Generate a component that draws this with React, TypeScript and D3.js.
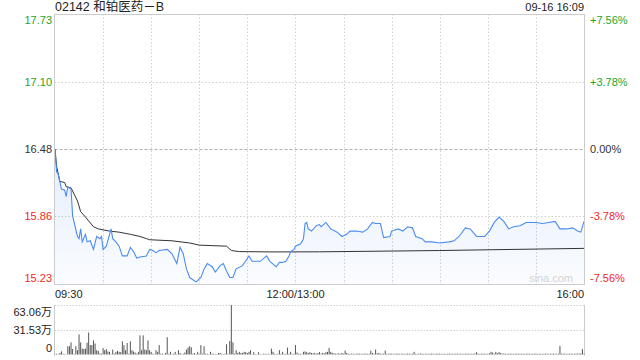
import React from "react";
import * as d3 from "d3";

const title = "02142 和铂医药－B";
const stamp = "09-16 16:09";
const preClose = 16.48;
const priceTicks = [17.73, 17.1, 16.48, 15.86, 15.23];
const priceTickLabels = ["17.73", "17.10", "16.48", "15.86", "15.23"];
const pctTickLabels = ["+7.56%", "+3.78%", "0.00%", "-3.78%", "-7.56%"];
const timeTickMinutes = [0, 150, 330];
const timeTickLabels = ["09:30", "12:00/13:00", "16:00"];
const volTicks = [63.06, 31.53, 0];
const volTickLabels = ["63.06万", "31.53万", "0"];

// trading minutes since 09:30 (morning 0-150, afternoon 150-330)
const priceMinutes = [
  0, 1, 2, 4, 6, 7, 8, 10, 11, 14, 15, 16, 17, 19, 20, 22, 24, 26, 28, 29, 30, 32, 35, 36, 38, 40,
  42, 45, 47, 49, 51, 53, 57, 59, 61, 63, 65, 70, 73, 76, 78, 80, 82, 84, 88, 91, 93, 95, 98, 100,
  103, 105, 107, 109, 111, 113, 117, 121, 123, 128, 132, 134, 138, 140, 142, 144, 146, 147, 149,
  150, 153, 154, 155, 156, 157, 158, 160, 163, 165, 166, 169, 172, 176, 179, 182, 184, 188, 192,
  195, 198, 200, 203, 205, 209, 210, 214, 217, 220, 223, 225, 229, 231, 235, 240, 246, 249, 252,
  256, 259, 263, 268, 271, 274, 277, 280, 283, 286, 290, 294, 300, 304, 308, 312, 315, 319, 323,
  326, 328, 330,
];
const prices = [
  16.48, 16.27, 16.25, 16.11, 16.1, 16.04, 16.13, 16.11, 15.86, 15.67, 15.65, 15.74, 15.62, 15.69,
  15.62, 15.63, 15.55, 15.67, 15.65, 15.67, 15.55, 15.58, 15.74, 15.65, 15.62, 15.58, 15.49, 15.49,
  15.57, 15.53, 15.47, 15.48, 15.49, 15.55, 15.54, 15.52, 15.54, 15.55, 15.51, 15.42, 15.57, 15.51,
  15.37, 15.29, 15.25, 15.29, 15.37, 15.42, 15.39, 15.34, 15.4, 15.42, 15.35, 15.29, 15.29, 15.37,
  15.4, 15.49, 15.44, 15.44, 15.49, 15.44, 15.39, 15.43, 15.43, 15.44, 15.49, 15.53, 15.55, 15.58,
  15.6, 15.62, 15.65, 15.79, 15.8, 15.74, 15.72, 15.77, 15.78, 15.76, 15.8, 15.74, 15.71, 15.67,
  15.69, 15.72, 15.72, 15.71, 15.74, 15.8, 15.79, 15.79, 15.66, 15.67, 15.72, 15.74, 15.72, 15.76,
  15.75, 15.67, 15.65, 15.62, 15.62, 15.61, 15.62, 15.63, 15.67, 15.75, 15.74, 15.67, 15.67, 15.72,
  15.8, 15.85, 15.81, 15.74, 15.76, 15.77, 15.8, 15.8, 15.79, 15.8, 15.81, 15.74, 15.74, 15.75,
  15.72, 15.71, 15.81,
];

const avgMinutes = [0, 1, 3, 6, 7, 10, 14, 16, 19, 24, 27, 34, 40, 47, 53, 57, 59, 73, 84, 90, 107, 110, 115, 136, 165, 240, 330];
const avgPrices = [
  16.48, 16.32, 16.18, 16.17, 16.13, 16.12, 16.0, 15.9, 15.85, 15.76, 15.74, 15.72, 15.71, 15.69,
  15.67, 15.65, 15.64, 15.63, 15.61, 15.59, 15.58, 15.54, 15.53, 15.527, 15.528, 15.54, 15.56,
];

// volume per minute, in 万 shares (index = trading minute)
const volumes = [
  0.5, 1, 0.5, 2, 4, 1, 0.5, 0.3, 10.5, 10.5,
  15.5, 7, 0.5, 10.5, 5.5, 25.6, 15.5, 7.5, 7, 7.5,
  15, 28, 12, 12, 18, 14, 5.5, 4.6, 1.5, 1,
  8, 5.5, 7, 4, 3.4, 0.5, 6.3, 1, 3.4, 4.6,
  3.4, 3, 16.8, 12, 5.5, 14.7, 1, 16.8, 5.5, 3.8,
  2.5, 1, 3.4, 24.4, 5.5, 24.4, 6.3, 5.5, 18, 5.5,
  3.4, 1, 0.5, 5.5, 3.4, 12, 1, 1, 0.5, 2,
  22, 1, 3.4, 0.5, 1, 3.4, 0.5, 5.5, 2, 0.5,
  1, 2.5, 6.3, 8.8, 10.5, 9.2, 1, 2, 0.5, 3.4,
  1, 12, 1, 10.5, 1, 1, 0.5, 3.4, 1, 1,
  0.5, 0.5, 2, 2, 1, 0.5, 1, 13, 0.5, 17.2,
  63.06, 15.5, 1, 5.5, 2, 3.4, 2, 2, 3.4, 3,
  2, 3.4, 5.5, 0.5, 3, 0.5, 0.5, 3, 0.5, 0.5,
  1, 1, 0.5, 1, 0.5, 7.5, 3.4, 1, 0.5, 1,
  5.5, 1, 3.4, 0.5, 1, 8.8, 1, 3.4, 0.5, 1,
  12,
  2.5, 1, 1, 0.5, 3.4, 4, 3, 2, 3, 2,
  1.5, 2, 1, 2, 3, 1, 2, 1.5, 3, 3.4,
  8.4, 3.4, 2, 1.5, 1, 1, 1.5, 1, 2, 1,
  5, 2, 1, 0.8, 1, 1, 0.7, 1, 1.2, 1,
  0.8, 1, 1, 1.2, 0.8, 1, 5, 2, 1, 6.3,
  1.5, 2, 1, 1, 1, 5, 1, 0.8, 1.2, 1,
  0.8, 1, 1, 1.2, 0.8, 1, 1, 0.7, 1, 1.2,
  1, 0.8, 1, 3.4, 1, 0.8, 1, 1.2, 1, 0.8,
  1, 1, 0.7, 1, 1.2, 1, 0.8, 1, 1, 1.2,
  0.8, 1, 1, 0.7, 1, 1.2, 1, 0.8, 1, 1,
  1.2, 0.8, 1, 1, 0.7, 1, 1.2, 1, 0.8, 1,
  1, 1.2, 3, 1, 0.8, 1, 1.2, 1, 0.8, 1,
  1.5, 3.4, 2.5, 1, 3.4, 1.5, 3, 2, 1, 1.2,
  1, 0.8, 1, 1.2, 1, 0.8, 1, 1, 1.2, 0.8,
  1, 1, 0.7, 1, 1.2, 1, 0.8, 1, 1, 1.2,
  0.8, 1, 1, 0.7, 1, 1.2, 1, 0.8, 1, 1,
  1.2, 0.8, 1, 1, 11, 1, 1.2, 1, 0.8, 1,
  1, 1.2, 0.8, 1, 1, 1.2, 1, 1.5, 7, 1,
];

const gridMinutes = [30, 60, 90, 120, 150, 180, 210, 240, 270, 300];

const FONT = "'Liberation Sans', Arial, 'Noto Sans CJK SC', sans-serif";
const GREEN = "#1ea51e";
const RED = "#f0281e";
const GRID = "#d0d0d0";
const BORDER = "#cccccc";

export default function App() {
  const W = 640, H = 360;
  const L = 54.5, R = 584.5, T = 14, B = 284;
  const VT = 305, VB = 354.5;

  const x = d3.scaleLinear().domain([0, 330]).range([55, 584]);
  const y = d3.scaleLinear().domain([15.23, 17.73]).range([B, T]);
  const yv = d3.scaleLinear().domain([0, 63.06]).range([VB, VT]);

  const pts = priceMinutes.map((m, i) => [m, prices[i]] as [number, number]);
  const avgPts = avgMinutes.map((m, i) => [m, avgPrices[i]] as [number, number]);

  const line = d3.line<[number, number]>().x((d) => x(d[0])).y((d) => y(d[1]));
  const area = d3
    .area<[number, number]>()
    .x((d) => x(d[0]))
    .y0(B)
    .y1((d) => y(d[1]));

  const labelColor = (v: number) => (v > preClose ? GREEN : v < preClose ? RED : "#333");
  const labelY = (i: number) => {
    const yy = y(priceTicks[i]);
    if (i === 0) return yy + 6;
    if (i === priceTicks.length - 1) return yy - 6;
    return yy;
  };

  return (
    <svg
      width={W}
      height={H}
      style={{ position: "absolute", left: 0, top: 0, background: "#fff" }}
      fontFamily={FONT}
    >
      <defs>
        <linearGradient id="fillGrad" x1="0" y1="0" x2="0" y2="1">
          <stop offset="0%" stopColor="#5b93ee" stopOpacity={0.16} />
          <stop offset="100%" stopColor="#5b93ee" stopOpacity={0.03} />
        </linearGradient>
      </defs>

      {/* title and stamp */}
      <text x={55} y={7} dominantBaseline="central" fontSize={12.5} fill="#222">
        {title}
      </text>
      <text x={584} y={7} dominantBaseline="central" fontSize={11} fill="#222" textAnchor="end">
        {stamp}
      </text>

      {/* price grid */}
      {gridMinutes.map((m) => (
        <line
          key={"vg" + m}
          x1={Math.round(x(m)) + 0.5}
          x2={Math.round(x(m)) + 0.5}
          y1={T}
          y2={B}
          stroke={GRID}
          strokeDasharray="1.5,2"
        />
      ))}
      {priceTicks.slice(1, -1).map((p) => (
        <line
          key={"hg" + p}
          x1={L}
          x2={R}
          y1={Math.round(y(p)) + 0.5}
          y2={Math.round(y(p)) + 0.5}
          stroke={p === preClose ? "#b0b0b0" : GRID}
          strokeDasharray={p === preClose ? "3,2" : "1.5,2"}
        />
      ))}

      {/* area + lines */}
      <path d={area(pts) || ""} fill="url(#fillGrad)" />
      <path d={line(avgPts) || ""} fill="none" stroke="#333" strokeWidth={1} />
      <path d={line(pts) || ""} fill="none" stroke="#4a8cf0" strokeWidth={1.1} />

      {/* border */}
      <rect x={L} y={T + 0.5} width={R - L} height={B - T} fill="none" stroke={BORDER} />

      {/* watermark */}
      <text x={573} y={278} dominantBaseline="central" fontSize={11} fill="#d4d4d4" textAnchor="end">
        sina.com
      </text>

      {/* price labels */}
      {priceTicks.map((p, i) => (
        <text
          key={"pl" + i}
          x={52}
          y={labelY(i)}
          dominantBaseline="central"
          textAnchor="end"
          fontSize={11}
          fill={labelColor(p)}
        >
          {priceTickLabels[i]}
        </text>
      ))}
      {priceTicks.map((p, i) => (
        <text
          key={"pc" + i}
          x={590}
          y={labelY(i)}
          dominantBaseline="central"
          textAnchor="start"
          fontSize={11}
          fill={labelColor(p)}
        >
          {pctTickLabels[i]}
        </text>
      ))}

      {/* time labels */}
      {timeTickMinutes.map((m, i) => (
        <text
          key={"tl" + i}
          x={x(m)}
          y={294}
          dominantBaseline="central"
          textAnchor={i === 0 ? "start" : i === timeTickMinutes.length - 1 ? "end" : "middle"}
          fontSize={11}
          fill="#222"
        >
          {timeTickLabels[i]}
        </text>
      ))}

      {/* volume panel */}
      {volTicks.slice(0, 2).map((v) => (
        <line
          key={"vh" + v}
          x1={L}
          x2={R}
          y1={Math.round(yv(v)) + 0.5}
          y2={Math.round(yv(v)) + 0.5}
          stroke={GRID}
          strokeDasharray="1.5,1.5"
        />
      ))}
      <line x1={L} x2={L} y1={VT} y2={VB + 1} stroke={BORDER} />
      <line x1={R} x2={R} y1={VT} y2={VB + 1} stroke={BORDER} />
      {volumes.map((v, i) => (
        <rect
          key={"vb" + i}
          x={x(i) - 0.5}
          y={yv(v)}
          width={1}
          height={Math.max(0, VB - yv(v))}
          fill="#555"
        />
      ))}
      {volTicks.map((v, i) => (
        <text
          key={"vl" + i}
          x={52}
          y={i === 0 ? 312 : i === 2 ? 348 : yv(v)}
          dominantBaseline="central"
          textAnchor="end"
          fontSize={11}
          fill="#222"
        >
          {volTickLabels[i]}
        </text>
      ))}
    </svg>
  );
}
